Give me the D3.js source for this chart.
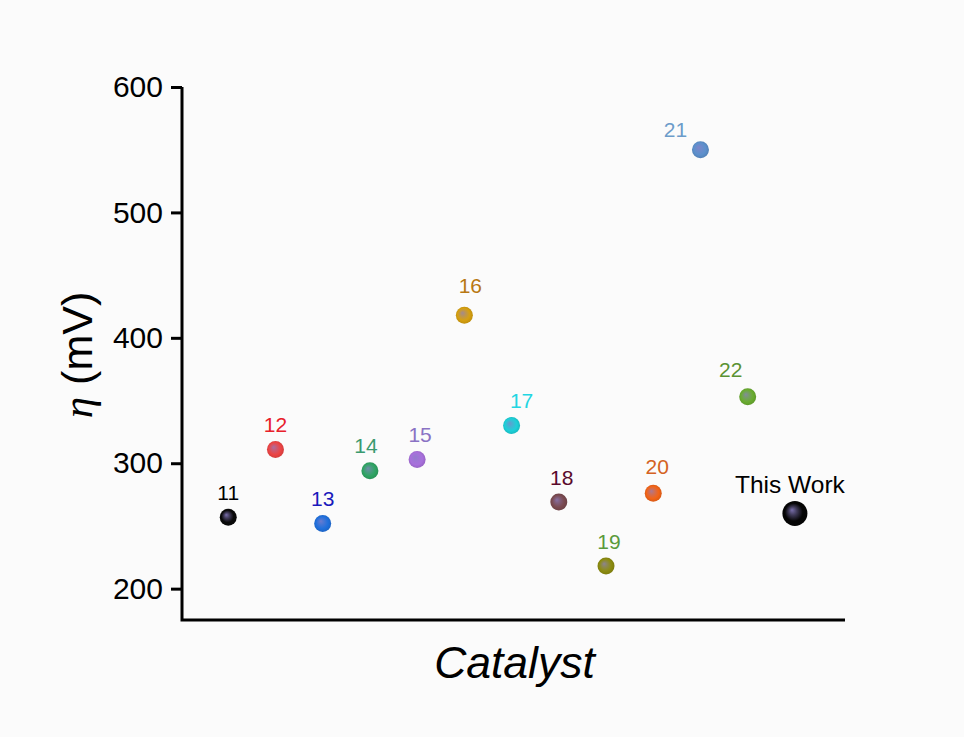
<!DOCTYPE html>
<html>
<head>
<meta charset="utf-8">
<script src="https://cdn.jsdelivr.net/npm/d3@7"></script>
<style>
  html, body { margin: 0; padding: 0; background: #fbfbfb; }
  svg { display: block; }
</style>
</head>
<body>
<script>
// Catalyst labels and overpotential values (mV)
const catalysts = ["11", "12", "13", "14", "15", "16", "17", "18", "19", "20", "21", "22", "This Work"];
const eta = [257, 311, 252, 294, 303, 418, 330, 269, 218, 276, 550, 353, 260];
const yTicks = [200, 300, 400, 500, 600];

const pointColors = ["#0a0a0a", "#ec4444", "#2070dc", "#2fa463", "#a870dc", "#d6a010",
  "#1cd0d8", "#7a4a50", "#8c8c10", "#f26418", "#5c90cc", "#6aac30", "#050505"];
const labelColors = ["#000000", "#e8202a", "#1a1abc", "#3a9a70", "#8a72c4", "#b87812",
  "#22d6e2", "#5a0a2c", "#5a9a3c", "#d46222", "#6c9cca", "#5a9232", "#000000"];

// small label nudges so texts sit where the original put them
const nudge = {
  "14": [-4, 0], "15": [3, 0], "16": [6, -5], "17": [10, 0], "18": [3, 0], "19": [3, 0],
  "20": [4, -2], "21": [-25, 5], "22": [-17, -2], "This Work": [-5, 0]
};

const W = 964, H = 737;
const margin = { top: 87, right: 119, bottom: 117, left: 182 };
const width = W - margin.left - margin.right;
const height = H - margin.top - margin.bottom;

const svgRoot = d3.select("body").append("svg")
  .attr("width", W)
  .attr("height", H);

svgRoot.append("rect").attr("width", W).attr("height", H).attr("fill", "#fbfbfb");

const defs = svgRoot.append("defs");
pointColors.forEach((c, i) => {
  const g = defs.append("radialGradient")
    .attr("id", "ball" + i)
    .attr("cx", "50%").attr("cy", "50%").attr("r", "55%")
    .attr("fx", "38%").attr("fy", "36%");
  const hi = d3.interpolateRgb(c, "#8c80c8")(i === 0 || i === 12 ? 0.85 : 0.7);
  g.append("stop").attr("offset", "0%").attr("stop-color", hi);
  g.append("stop").attr("offset", "30%").attr("stop-color", d3.interpolateRgb(c, hi)(0.5));
  g.append("stop").attr("offset", "65%").attr("stop-color", c);
  g.append("stop").attr("offset", "100%").attr("stop-color", d3.color(c).darker(0.4));
});

const svg = svgRoot.append("g")
  .attr("transform", `translate(${margin.left},${margin.top})`);

const x = d3.scalePoint()
  .domain(catalysts)
  .range([0, width])
  .padding(1.02)
  .align(0.48);

const y = d3.scaleLinear()
  .domain([175, 600])
  .range([height, 0]);

// y axis
const yAxis = svg.append("g")
  .call(d3.axisLeft(y).tickValues(yTicks).tickSize(11).tickPadding(8));
yAxis.select(".domain").remove();
yAxis.selectAll(".tick line").attr("stroke", "#000").attr("stroke-width", 3);
yAxis.selectAll(".tick text")
  .attr("font-family", "Liberation Sans, Arial, sans-serif")
  .attr("font-size", 30)
  .attr("fill", "#000");

// axis lines
svg.append("path")
  .attr("d", `M0,${y(600)}V${height}H${width}`)
  .attr("fill", "none")
  .attr("stroke", "#000")
  .attr("stroke-width", 3);

// points
const pts = catalysts.map((c, i) => ({ name: c, value: eta[i], i }));

svg.selectAll("circle.pt")
  .data(pts)
  .enter()
  .append("circle")
  .attr("class", "pt")
  .attr("cx", d => x(d.name))
  .attr("cy", d => y(d.value))
  .attr("r", d => d.name === "This Work" ? 12.5 : 8.5)
  .attr("fill", d => `url(#ball${d.i})`);

svg.selectAll("text.lbl")
  .data(pts)
  .enter()
  .append("text")
  .attr("class", "lbl")
  .attr("x", d => x(d.name) + (nudge[d.name] ? nudge[d.name][0] : 0))
  .attr("y", d => y(d.value) - (d.name === "This Work" ? 20.5 : 17.5) + (nudge[d.name] ? nudge[d.name][1] : 0))
  .attr("text-anchor", "middle")
  .attr("font-family", "Liberation Sans, Arial, sans-serif")
  .attr("font-size", d => d.name === "This Work" ? 24.5 : 21)
  .attr("fill", d => labelColors[d.i])
  .text(d => d.name);

// axis titles
svg.append("text")
  .attr("x", width / 2 + 1)
  .attr("y", height + 58)
  .attr("text-anchor", "middle")
  .attr("font-family", "Liberation Sans, Arial, sans-serif")
  .attr("font-style", "italic")
  .attr("font-size", 44.5)
  .text("Catalyst");

const yt = svg.append("text")
  .attr("transform", `translate(${92 - margin.left},${355 - margin.top}) rotate(-90)`)
  .attr("text-anchor", "middle")
  .attr("font-family", "Liberation Sans, Arial, sans-serif")
  .attr("font-size", 43);
yt.append("tspan").attr("font-style", "italic").attr("font-family", "Liberation Serif, Times New Roman, serif").text("η");
yt.append("tspan").text(" (mV)");
</script>
</body>
</html>
